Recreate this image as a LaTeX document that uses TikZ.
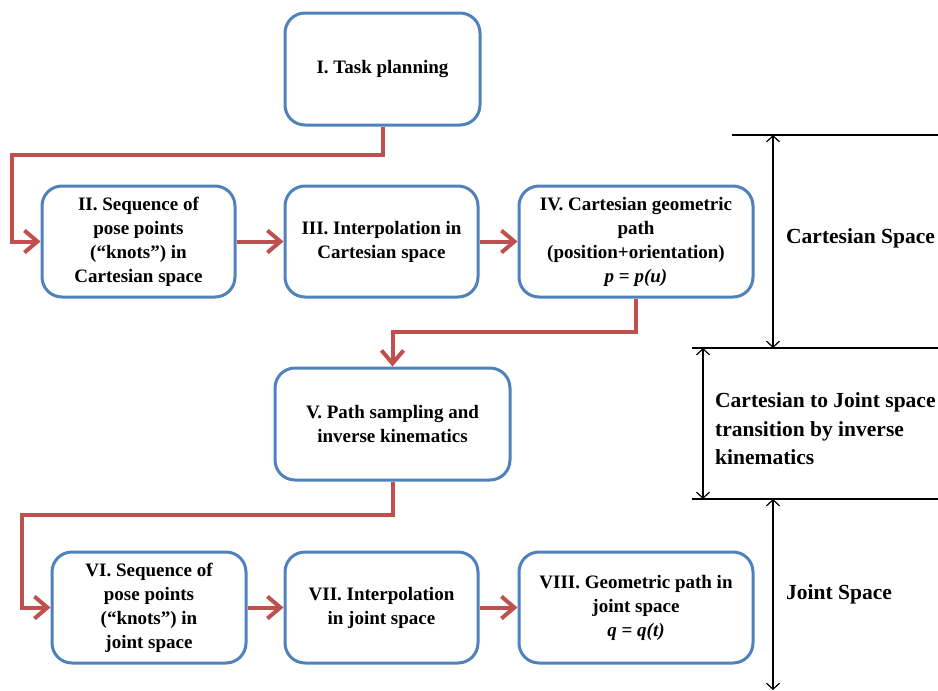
\documentclass[tikz,border=0pt]{standalone}
\usepackage{fontspec}
\setmainfont{Liberation Serif}
\usetikzlibrary{arrows.meta}
\definecolor{boxblue}{HTML}{4F81BD}
\definecolor{arrred}{HTML}{C0504D}
\tikzset{
  stepbox/.style={draw=boxblue, line width=3pt, rounded corners=20pt, fill=white,
    align=center, inner sep=2pt,
    font=\bfseries\fontsize{19}{24}\selectfont},
  flow/.style={draw=arrred, line width=4pt, -{Straight Barb[length=13pt,width=22pt]}},
  sep/.style={draw=black, line width=1.3pt},
  span/.style={draw=black, line width=1.2pt, {Straight Barb[length=6pt,width=13pt]}-{Straight Barb[length=6pt,width=13pt]}},
  spacelabel/.style={anchor=west, align=left, inner sep=0pt,
    font=\bfseries\fontsize{21.5}{28.5}\selectfont}
}
\newcommand{\bi}[1]{{\bfseries\itshape #1}}
\begin{document}
\begin{tikzpicture}[x=1pt,y=-1pt]
\useasboundingbox (0,0) rectangle (938,691);
% boxes
\node[stepbox, minimum width=195pt, minimum height=112pt] (I) at (382.5,69) {I. Task planning};
\node[stepbox, minimum width=193pt, minimum height=111pt] (II) at (138.5,241.5) {II. Sequence of\\pose points\\(``knots'') in\\Cartesian space};
\node[stepbox, minimum width=193pt, minimum height=111pt] (III) at (381.5,241.5) {III. Interpolation in\\Cartesian space};
\node[stepbox, minimum width=234pt, minimum height=111pt] (IV) at (636,241.5) {IV. Cartesian geometric\\path\\(position+orientation)\\\bi{p} = \bi{p(u)}};
\node[stepbox, minimum width=235pt, minimum height=112pt] (V) at (392.5,424) {V. Path sampling and\\inverse kinematics};
\node[stepbox, minimum width=194pt, minimum height=111pt] (VI) at (149,607.5) {VI. Sequence of\\pose points\\(``knots'') in\\joint space};
\node[stepbox, minimum width=193pt, minimum height=111pt] (VII) at (381.5,607.5) {VII. Interpolation\\in joint space};
\node[stepbox, minimum width=234pt, minimum height=111pt] (VIII) at (636,607.5) {VIII. Geometric path in\\joint space\\\bi{q} = \bi{q(t)}};
% connectors
\coordinate (b1) at (12,155);
\coordinate (b2) at (392.5,332);
\coordinate (b3) at (22,515);
\draw[flow] (I.south) |- (b1) |- (II.west);
\draw[flow] (II.east) -- (III.west);
\draw[flow] (III.east) -- (IV.west);
\draw[flow] (IV.south) |- (b2) -- (V.north);
\draw[flow] (V.south) |- (b3) |- (VI.west);
\draw[flow] (VI.east) -- (VII.west);
\draw[flow] (VII.east) -- (VIII.west);
% space separators
\coordinate (l1a) at (732,135); \coordinate (l1b) at (938,135);
\coordinate (l2a) at (692,348); \coordinate (l2b) at (938,348);
\coordinate (l3a) at (692,499); \coordinate (l3b) at (938,499);
\draw[sep] (l1a) -- (l1b);
\draw[sep] (l2a) -- (l2b);
\draw[sep] (l3a) -- (l3b);
\coordinate (a1t) at (773,135); \coordinate (a1b) at (773,348);
\coordinate (a2t) at (703,348); \coordinate (a2b) at (703,499);
\coordinate (a3t) at (773,499); \coordinate (a3b) at (773,690);
\draw[span] (a1t) -- (a1b);
\draw[span] (a2t) -- (a2b);
\draw[span] (a3t) -- (a3b);
% labels
\node[spacelabel] (cs) at (786,238) {Cartesian Space};
\node[spacelabel] (cj) at (715,429) {Cartesian to Joint space\\transition by inverse\\kinematics};
\node[spacelabel] (js) at (786,594) {Joint Space};
\end{tikzpicture}
\end{document}
